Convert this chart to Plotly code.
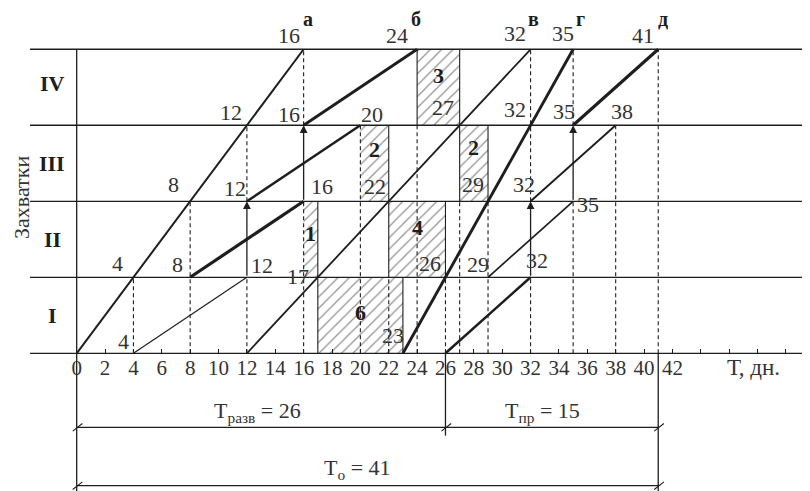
import plotly.graph_objects as go

# days on the time axis
tick_days = list(range(0, 51, 2))
tick_labels = [str(d) if d <= 42 else '' for d in tick_days]

zone_names = ['I', 'II', 'III', 'IV']

# work flows: start / end day and start / end zone boundary
flow_start = [0, 4, 8, 12, 16, 12, 23, 26, 29, 32, 35]
flow_end = [16, 12, 16, 20, 24, 32, 35, 32, 35, 38, 41]
flow_from = [0, 0, 1, 2, 3, 0, 0, 0, 1, 2, 3]
flow_to = [4, 1, 2, 3, 4, 4, 4, 1, 2, 3, 4]
flow_width = [2.0, 1.2, 3.2, 2.5, 2.9, 1.8, 2.9, 2.5, 1.7, 1.9, 3.1]

# organisational breaks (hatched), label = duration
break_start = [16, 17, 22, 20, 27, 24]
break_end = [17, 23, 26, 22, 29, 27]
break_zone = [1, 0, 1, 2, 2, 3]
break_dashed_left = [True, False, False, True, False, False]
break_label_dy = [-6, -3, -12, -14, -16, -12]

# crew transfers to the next zone (arrows)
move_day = [12, 16, 32, 35]
move_zone = [1, 2, 1, 2]

# dashed projection lines
proj_day = [4, 8, 12, 12, 16, 16, 20, 22, 24, 26, 27, 29, 32, 32, 35, 35, 38, 41]
proj_from = [0, 0, 0, 2, 0, 3, 0, 0, 0, 0, 0, 0, 0, 2, 0, 3, 0, 0]
proj_to = [1, 2, 1, 3, 2, 4, 3, 1, 3, 1, 2, 2, 1, 4, 2, 4, 3, 4]

# milestones on top
mile_day = [16, 24, 32, 35, 41]
mile_name = ['а', 'б', 'в', 'г', 'д']
mile_dx = [4, -1, 3, 7, 5]

# day marks next to the lines
mark_day = [16, 24, 32, 35, 41,
            12, 16, 20, 27, 32, 35, 38,
            8, 12, 16, 22, 29, 32, 35,
            4, 8, 12, 17, 26, 29, 32,
            4, 23]
mark_zone = [4, 4, 4, 4, 4,
             3, 3, 3, 3, 3, 3, 3,
             2, 2, 2, 2, 2, 2, 2,
             1, 1, 1, 1, 1, 1, 1,
             0, 0]
mark_dx = [-15, -20, -16, -10, -15,
           -16, -15, 12, -17, -16, -9, 6,
           -17, -12, 18, -14, -15, -7, 15,
           -16, -13, 15, -20, -15, -10, 6,
           -10, -10]
mark_dy = [-14, -14, -16, -16, -14,
           -13, -11, -11, -18, -16, -14, -14,
           -17, -13, -15, -15, -17, -17, 3,
           -14, -13, -12, -1, -14, -13, -17,
           -12, -18]

t_razv, t_pr = 26, 15
t_o = t_razv + t_pr

INK = '#1e1e1e'
TXT = '#333333'
SERIF = 'Liberation Serif'
# page body keeps an 8px margin, so the figure is 8px smaller than the window
W, H = 802, 483
XMIN, XMAX = -4.843, 51.70
YMIN, YMAX = -1.812, 4.543
LEFT, RIGHT = -3.29, 51.70
DIM1, DIM2 = -0.974, -1.742

fig = go.Figure()


def seg(xs, ys, width=1.3, dash='solid', color=INK):
    fig.add_trace(go.Scatter(x=xs, y=ys, mode='lines', hoverinfo='skip',
                             line=dict(color=color, width=width, dash=dash)))


# hatched breaks
for s, e, z in zip(break_start, break_end, break_zone):
    fig.add_trace(go.Scatter(
        x=[s, e, e, s, s], y=[z, z, z + 1, z + 1, z], mode='lines', fill='toself',
        fillcolor='white', line=dict(width=0), hoverinfo='skip',
        fillpattern=dict(shape='/', size=8, solidity=0.15, fgcolor='#222', bgcolor='white')))

# zone boundaries and time axis
xs, ys = [], []
for lv in range(5):
    xs += [LEFT, RIGHT, None]
    ys += [lv, lv, None]
seg(xs, ys, 1.3)

# break edges
xs, ys = [], []
for s, e, z, dl in zip(break_start, break_end, break_zone, break_dashed_left):
    xs += [e, e, None]
    ys += [z, z + 1, None]
    if not dl:
        xs += [s, s, None]
        ys += [z, z + 1, None]
seg(xs, ys, 1.1)

# projection lines
xs, ys = [], []
for d, a, b in zip(proj_day, proj_from, proj_to):
    xs += [d, d, None]
    ys += [a, b, None]
seg(xs, ys, 1.1, dash='4px,3px')

# vertical frame and dimension lines
seg([0, 0], [4, YMIN], 1.3)
seg([t_o, t_o], [0, YMIN], 1.3)
seg([t_razv, t_razv], [0, DIM1 - 0.11], 1.3)
seg([0, t_o], [DIM1, DIM1], 1.3)
seg([0, t_o], [DIM2, DIM2], 1.3)
xs, ys = [], []
for d, yl in [(0, DIM1), (t_razv, DIM1), (t_o, DIM1), (0, DIM2), (t_o, DIM2)]:
    xs += [d - 0.28, d + 0.4, None]
    ys += [yl - 0.05, yl + 0.05, None]
seg(xs, ys, 1.1)

# work flows
for s, e, a, b, w in zip(flow_start, flow_end, flow_from, flow_to, flow_width):
    seg([s, e], [a, b], w)

ann = []
# transfers
for d, z in zip(move_day, move_zone):
    ann.append(dict(x=d, y=z + 1, ax=d, ay=z, xref='x', yref='y', axref='x', ayref='y',
                    showarrow=True, arrowhead=2, arrowsize=1.2, arrowwidth=1.3,
                    arrowcolor=INK, text=''))

# day marks
for d, z, dx, dy in zip(mark_day, mark_zone, mark_dx, mark_dy):
    ann.append(dict(x=d, y=z, text=str(d), showarrow=False, xshift=dx, yshift=-dy,
                    font=dict(family=SERIF, size=22, color=TXT)))

# milestones
for d, n, dx in zip(mile_day, mile_name, mile_dx):
    ann.append(dict(x=d, y=4, text='<b>%s</b>' % n, showarrow=False, xshift=dx, yshift=30,
                    font=dict(family=SERIF, size=20, color=INK)))

# break durations
for s, e, z, dy in zip(break_start, break_end, break_zone, break_label_dy):
    ann.append(dict(x=(s + e) / 2, y=z + 0.5, text='<b>%d</b>' % (e - s), showarrow=False,
                    yshift=-dy, font=dict(family=SERIF, size=22, color=INK)))

# zone names
for i, n in enumerate(zone_names):
    ann.append(dict(x=-1.74, y=i + 0.5, text='<b>%s</b>' % n, showarrow=False,
                    yshift=4 if i == 3 else 0,
                    font=dict(family=SERIF, size=22, color=INK)))

ann.append(dict(x=13 / W, y=1 - 190 / H, xref='paper', yref='paper', text='Захватки',
                xanchor='center', yanchor='middle',
                textangle=-90, showarrow=False, font=dict(family=SERIF, size=22, color=TXT)))
ann.append(dict(x=47.75, y=-0.19, text='Т, дн.', showarrow=False,
                font=dict(family=SERIF, size=23, color=TXT)))
ann.append(dict(x=t_razv / 2, y=-0.77, xshift=-4, showarrow=False,
                text='Т<sub>разв</sub> = %d' % t_razv, font=dict(family=SERIF, size=22, color=TXT)))
ann.append(dict(x=t_razv + t_pr / 2, y=-0.77, xshift=-9, showarrow=False,
                text='Т<sub>пр</sub> = %d' % t_pr, font=dict(family=SERIF, size=22, color=TXT)))
ann.append(dict(x=t_o / 2, y=-1.52, xshift=-10, showarrow=False,
                text='Т<sub>о</sub> = %d' % t_o, font=dict(family=SERIF, size=22, color=TXT)))

fig.update_layout(
    width=W, height=H, margin=dict(l=0, r=0, t=0, b=0),
    plot_bgcolor='white', paper_bgcolor='white', showlegend=False,
    annotations=ann,
    xaxis=dict(range=[XMIN, XMAX], anchor='free', position=1 - YMAX / (YMAX - YMIN),
               tickvals=tick_days, ticktext=tick_labels, ticks='inside', ticklen=4,
               tickcolor=INK, showgrid=False, zeroline=False, showline=False,
               automargin=False, tickfont=dict(family=SERIF, size=21, color=TXT)),
    yaxis=dict(range=[YMIN, YMAX], visible=False, automargin=False),
)

fig.write_html("out.html")
